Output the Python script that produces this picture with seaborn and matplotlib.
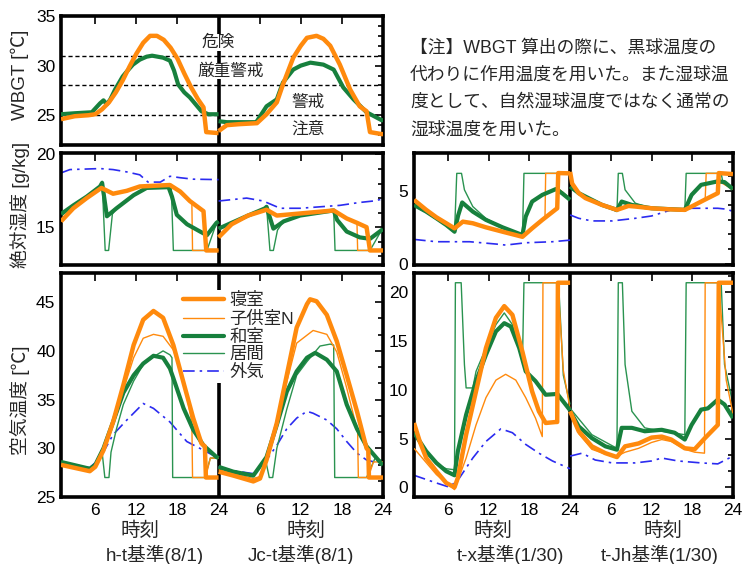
import numpy as np
import pandas as pd
import matplotlib
matplotlib.use("Agg")
import matplotlib.pyplot as plt
from matplotlib.lines import Line2D
from matplotlib.ticker import MultipleLocator, AutoMinorLocator, FixedLocator, FixedFormatter
import seaborn as sns

sns.set_style("white")
plt.rcParams['font.family'] = ['Liberation Sans', 'Noto Sans CJK JP', 'DejaVu Sans']

# ---------------- data ----------------
series_names = ['寝室', '子供室N', '和室', '居間', '外気']
xtick_pos = [6, 12, 18, 24, 30, 36, 42, 48]
xtick_lab = ['6', '12', '18', '24', '6', '12', '18', '24']

# WBGT (h-t, day1: hours 1-24; Jc-t, day2: hours 0-24)
wbgt_ht_bed_t = [1, 3, 5, 6, 7, 8, 9, 10, 11, 12, 13, 14, 15, 16, 17, 18, 19, 20, 21, 21.8, 22.2, 24]
wbgt_ht_bed = [24.6, 24.9, 25.0, 25.1, 25.6, 26.3, 27.3, 28.5, 29.9, 31.2, 32.3, 33.0, 33.0, 32.6, 31.8, 30.7, 29.2, 27.8, 26.6, 25.8, 23.3, 23.2]
wbgt_ht_wa_t = [1, 3, 5.5, 6.7, 7.2, 7.7, 8.2, 8.9, 10, 10.6, 11.5, 12.5, 13.5, 14.3, 15.9, 16.9, 17.5, 18.1, 19, 19.8, 21.5, 22.5, 23.7, 24]
wbgt_ht_wa = [25.1, 25.2, 25.3, 26.2, 26.5, 26.1, 26.6, 27.6, 28.9, 29.4, 30.1, 30.6, 30.9, 31.0, 30.8, 30.5, 29.5, 28.1, 27.3, 26.8, 25.4, 25.1, 25.1, 25.1]
wbgt_jc_bed_t = [0, 1.2, 3, 5.6, 7.0, 8.5, 9.4, 10.9, 12.0, 12.9, 14.3, 15.3, 16.3, 17.7, 19.2, 20.6, 21.6, 22.1, 23.8, 24]
wbgt_jc_bed = [23.4, 24.0, 24.1, 24.2, 25.1, 26.3, 28.1, 30.8, 32.0, 32.8, 33.0, 32.7, 32.0, 30.1, 27.6, 25.9, 25.4, 23.3, 23.1, 23.1]
wbgt_jc_wa_t = [0, 1.2, 5.5, 7.0, 8.5, 9.4, 10.9, 12.0, 13.4, 15.3, 16.8, 18.2, 19.7, 21.6, 23.8, 24]
wbgt_jc_wa = [24.4, 24.3, 24.3, 25.9, 26.6, 28.3, 29.6, 30.0, 30.3, 30.1, 29.6, 27.8, 26.6, 25.3, 24.5, 24.5]
wbgt_levels = [31, 28, 25]
wbgt_zone_labels = ['危険', '厳重警戒', '警戒', '注意']

# absolute humidity, left (h-t / Jc-t, 8/1)
hum_ht_out_t = [1, 2.3, 6.7, 8.6, 10.6, 12.5, 13.7, 15.5, 16.9, 18.4, 20.3, 24]
hum_ht_out = [18.73, 18.96, 19.03, 18.96, 18.8, 18.6, 18.1, 18.1, 18.5, 18.4, 18.3, 18.27]
hum_ht_bed_t = [1, 2.8, 4.75, 6.9, 8.6, 10.6, 12.5, 16.9, 18.4, 19.8, 21.8, 22.2, 24]
hum_ht_bed = [15.4, 16.3, 17.0, 17.7, 17.3, 17.5, 17.8, 17.9, 17.45, 16.8, 16.1, 13.4, 13.4]
hum_ht_child_t = [1, 2.8, 4.75, 6.9, 8.6, 10.6, 12.5, 16.9, 18.4, 19.8, 20.1, 20.2, 24]
hum_ht_child = [15.4, 16.3, 17.0, 17.7, 17.3, 17.5, 17.8, 17.9, 17.45, 16.8, 16.7, 13.4, 13.4]
hum_ht_wa_t = [1, 2.8, 4.75, 6.7, 7.0, 7.7, 9.1, 11.6, 13.5, 16.7, 17.2, 17.9, 19.4, 21.3, 22.3, 23.7, 24]
hum_ht_wa = [15.9, 16.5, 17.1, 17.8, 18.05, 15.75, 16.3, 17.2, 17.7, 17.75, 17.1, 15.85, 15.2, 14.7, 14.45, 15.3, 15.4]
hum_ht_liv_t = [1, 2.8, 4.75, 6.7, 7.0, 7.45, 7.95, 8.5, 9.1, 11.6, 13.5, 16.7, 17.1, 17.4, 22.3, 23.7, 24]
hum_ht_liv = [15.8, 16.4, 17.1, 17.8, 18.15, 13.4, 13.4, 15.9, 16.3, 17.2, 17.7, 17.75, 17.7, 13.4, 13.4, 15.3, 15.4]

hum_jc_out_t = [0, 4.1, 6.5, 9.0, 11.9, 14.8, 17.7, 20.6, 22.6, 23.6, 24]
hum_jc_out = [16.8, 17.0, 16.8, 16.3, 16.3, 16.4, 16.5, 16.7, 16.8, 16.9, 16.95]
hum_jc_bed_t = [0, 1.9, 4.3, 7.0, 8.5, 10.9, 16.8, 18.7, 20.2, 21.6, 22.1, 24]
hum_jc_bed = [14.3, 15.2, 15.8, 16.2, 15.8, 15.9, 16.15, 15.6, 15.3, 15.0, 13.4, 13.4]
hum_jc_child_t = [0, 1.9, 4.3, 7.0, 8.5, 10.9, 16.8, 18.7, 20.2, 20.3, 24]
hum_jc_child = [14.3, 15.2, 15.8, 16.2, 15.8, 15.9, 16.15, 15.6, 15.3, 13.4, 13.4]
hum_jc_wa_t = [0, 1.9, 4.3, 6.8, 7.0, 8.0, 9.5, 11.9, 16.8, 17.3, 18.7, 20.6, 22.1, 23.8, 24]
hum_jc_wa = [14.9, 15.3, 15.8, 16.3, 16.4, 14.9, 15.4, 15.8, 16.15, 15.5, 14.7, 14.3, 14.2, 14.8, 14.85]
hum_jc_liv_t = [0, 1.9, 4.3, 7.0, 7.5, 8.0, 8.6, 9.5, 11.9, 16.8, 17.0, 22.1, 23.8, 24]
hum_jc_liv = [14.9, 15.3, 15.8, 16.4, 13.4, 13.4, 14.8, 15.4, 15.8, 16.15, 13.4, 13.4, 14.8, 14.85]

# air temperature, left (8/1)
tmp_ht_out_t = [1, 5.2, 6.7, 8.6, 10.6, 13.0, 14.5, 16.9, 19.35, 21.8, 23.7, 24]
tmp_ht_out = [28.6, 28.0, 29.0, 31.4, 32.9, 34.6, 34.1, 32.7, 30.7, 29.8, 29.1, 29.0]
tmp_ht_bed_t = [1, 5.2, 6.0, 7.2, 8.6, 10.1, 11.6, 13.0, 14.5, 15.9, 17.4, 18.9, 20.3, 21.5, 22.0, 22.15, 24]
tmp_ht_bed = [28.3, 27.65, 28.1, 29.8, 32.7, 36.5, 40.6, 43.2, 44.1, 43.4, 40.6, 36.7, 33.1, 30.5, 30.2, 27.0, 27.0]
tmp_ht_child_t = [1, 5.2, 6.0, 7.2, 8.6, 10.1, 11.6, 13.0, 14.5, 15.9, 17.4, 18.9, 20.1, 20.2, 22.1, 22.8, 24]
tmp_ht_child = [28.4, 27.8, 28.2, 29.8, 32.5, 36.0, 39.3, 41.3, 41.7, 41.5, 40.1, 37.0, 32.7, 27.0, 27.0, 29.0, 29.0]
tmp_ht_wa_t = [1, 5.2, 6.0, 7.2, 8.6, 10.1, 11.6, 13.0, 14.5, 15.9, 16.9, 17.4, 18.9, 20.3, 21.8, 23.7, 24]
tmp_ht_wa = [28.6, 27.9, 28.3, 30.0, 32.7, 35.7, 37.5, 38.7, 39.5, 39.3, 38.2, 37.2, 34.1, 31.9, 30.3, 29.1, 29.0]
tmp_ht_liv_t = [1, 5.2, 6.0, 7.0, 7.4, 8.0, 8.3, 9.1, 10.1, 11.6, 13.0, 14.5, 15.9, 16.9, 17.2, 17.3, 22.0, 22.8, 24]
tmp_ht_liv = [28.6, 27.9, 28.3, 29.6, 27.0, 27.0, 29.6, 32.0, 34.5, 36.9, 38.6, 39.4, 40.0, 39.6, 39.3, 27.0, 27.0, 29.0, 29.0]

tmp_jc_out_t = [0, 2.15, 5.07, 7.0, 8.5, 9.95, 11.4, 12.9, 13.8, 15.8, 17.25, 18.7, 20.2, 21.6, 23.8, 24]
tmp_jc_out = [28.1, 27.7, 27.4, 28.8, 30.3, 32.0, 33.1, 33.8, 33.6, 32.9, 32.0, 30.7, 29.5, 28.8, 28.4, 28.4]
tmp_jc_bed_t = [0, 2.15, 5.07, 6.05, 7.0, 8.5, 9.95, 11.4, 12.9, 13.35, 14.3, 15.8, 17.25, 18.7, 20.2, 21.6, 21.85, 21.95, 24]
tmp_jc_bed = [27.6, 27.2, 26.6, 26.9, 28.8, 32.6, 37.5, 42.4, 44.8, 45.3, 45.1, 43.7, 41.0, 37.5, 33.8, 30.0, 29.8, 27.0, 27.0]
tmp_jc_child_t = [0, 2.15, 5.07, 6.05, 7.0, 8.5, 9.95, 11.4, 13.8, 15.8, 17.25, 18.7, 20.3, 20.4, 21.85, 22.6, 24]
tmp_jc_child = [27.8, 27.4, 26.9, 27.1, 28.9, 32.4, 36.8, 40.8, 42.1, 41.7, 39.9, 36.2, 31.7, 27.0, 27.0, 28.6, 28.6]
tmp_jc_wa_t = [0, 2.15, 5.07, 7.0, 8.5, 9.95, 11.4, 12.9, 14.1, 15.8, 17.25, 18.7, 20.2, 21.6, 23.8, 24]
tmp_jc_wa = [28.1, 27.6, 27.2, 29.1, 32.4, 35.8, 37.9, 39.3, 39.8, 39.1, 37.9, 34.5, 32.0, 30.2, 28.4, 28.3]
tmp_jc_liv_t = [0, 2.15, 5.07, 6.8, 7.4, 7.9, 8.5, 9.95, 11.4, 12.9, 14.8, 16.3, 16.8, 16.95, 21.6, 22.85, 24]
tmp_jc_liv = [28.1, 27.6, 27.3, 29.0, 27.0, 27.0, 30.0, 34.0, 37.5, 38.9, 40.5, 40.7, 40.6, 27.0, 27.0, 29.0, 28.7]

# absolute humidity, right (t-x / t-Jh, 1/30)
rhum_tx_out_t = [1, 4.3, 9.2, 13.1, 14.5, 17.5, 21.4, 24]
rhum_tx_out = [1.66, 1.5, 1.5, 1.34, 1.27, 1.43, 1.5, 1.61]
rhum_tx_bed_t = [1, 2.8, 4.3, 5.75, 6.97, 8.2, 9.66, 11.6, 14.05, 16.98, 18.4, 19.9, 21.9, 22.1, 22.25, 24]
rhum_tx_bed = [4.38, 3.69, 3.18, 2.77, 2.42, 2.88, 2.77, 2.49, 2.19, 1.84, 2.42, 3.0, 3.73, 3.8, 6.22, 6.2]
rhum_tx_child_t = [1, 2.8, 4.3, 5.75, 6.97, 8.2, 9.66, 11.6, 14.05, 16.98, 18.4, 20.3, 20.4, 22.3, 22.4, 24]
rhum_tx_child = [4.3, 3.65, 3.15, 2.75, 2.4, 2.88, 2.77, 2.49, 2.19, 1.84, 2.42, 3.15, 6.2, 6.2, 5.1, 4.45]
rhum_tx_wa_t = [1, 2.8, 4.3, 5.75, 6.97, 7.5, 8.1, 9.66, 11.6, 14.05, 16.98, 17.46, 18.4, 19.9, 21.9, 22.8, 24]
rhum_tx_wa = [4.03, 3.57, 3.11, 2.65, 2.19, 3.3, 4.2, 3.57, 3.0, 2.49, 1.96, 3.23, 4.26, 4.72, 5.12, 4.84, 4.38]
rhum_tx_liv_t = [1, 2.8, 4.3, 5.75, 6.97, 7.3, 8.0, 8.43, 9.66, 11.6, 14.05, 16.98, 17.2, 22.3, 22.4, 24]
rhum_tx_liv = [3.96, 3.5, 3.05, 2.6, 2.12, 6.2, 6.2, 5.07, 3.92, 3.1, 2.49, 1.91, 6.2, 6.2, 5.1, 4.45]

rhum_jh_out_t = [0, 1.27, 3.2, 6.2, 9.6, 12.0, 14.9, 17.9, 21.76, 23.2, 24]
rhum_jh_out = [3.34, 3.11, 2.93, 2.93, 3.11, 3.27, 3.69, 3.8, 3.8, 3.73, 3.57]
rhum_jh_bed_t = [0, 0.3, 1.27, 2.25, 4.7, 6.9, 8.6, 9.6, 12.0, 14.45, 16.9, 17.9, 19.8, 21.76, 21.9, 24]
rhum_jh_bed = [6.3, 5.5, 4.84, 4.5, 4.03, 3.69, 3.96, 3.92, 3.8, 3.73, 3.69, 3.92, 4.38, 4.84, 6.22, 6.15]
rhum_jh_child_t = [0, 0.3, 1.27, 2.25, 4.7, 6.9, 8.6, 9.6, 12.0, 14.45, 16.9, 17.9, 19.9, 20.05, 22.0, 22.1, 24]
rhum_jh_child = [6.2, 5.5, 4.84, 4.5, 4.03, 3.69, 3.96, 3.92, 3.8, 3.73, 3.69, 3.92, 4.4, 6.2, 6.2, 5.6, 5.1]
rhum_jh_wa_t = [0, 1.27, 4.7, 6.9, 7.6, 9.1, 12.0, 16.9, 17.9, 19.3, 21.76, 22.75, 24]
rhum_jh_wa = [5.3, 4.84, 4.03, 3.69, 4.26, 4.03, 3.8, 3.69, 4.72, 5.41, 5.65, 5.6, 5.12]
rhum_jh_liv_t = [0, 1.27, 4.7, 6.9, 7.1, 7.7, 8.1, 9.6, 12.0, 16.9, 17.1, 22.26, 22.5, 24]
rhum_jh_liv = [5.18, 4.8, 4.0, 3.57, 6.2, 6.2, 5.07, 4.15, 3.8, 3.69, 6.2, 6.2, 5.6, 5.07]

# air temperature, right (1/30)
rtmp_tx_out_t = [1, 4.3, 6.24, 7.7, 9.66, 11.6, 13.8, 15.5, 17.46, 19.4, 21.4, 24]
rtmp_tx_out = [1.23, 0.44, 0.0, 0.96, 3.0, 4.7, 6.0, 5.6, 4.4, 3.5, 2.7, 1.9]
rtmp_tx_bed_t = [1, 1.85, 2.8, 4.3, 5.75, 6.97, 7.46, 8.68, 10.14, 11.6, 13.07, 14.3, 15.5, 16.98, 18.4, 19.4, 20.4, 21.9, 22.1, 22.2, 24]
rtmp_tx_bed = [6.6, 4.7, 3.0, 1.64, 0.44, 0.0, 0.96, 5.4, 9.85, 14.3, 17.4, 18.6, 17.7, 13.9, 9.85, 7.8, 6.6, 6.7, 6.7, 21.0, 21.0]
rtmp_tx_child_t = [1, 4.3, 6.97, 8.68, 10.14, 11.6, 13.07, 14.5, 16.0, 17.46, 18.9, 19.9, 20.0, 22.2, 23.0, 24]
rtmp_tx_child = [4.0, 1.3, -0.24, 3.0, 6.4, 9.2, 11.0, 11.6, 11.0, 9.2, 7.1, 5.2, 21.0, 21.0, 12.0, 8.0]
rtmp_tx_wa_t = [1, 2.8, 4.3, 5.75, 6.97, 7.46, 8.68, 10.14, 11.6, 13.07, 14.3, 15.27, 16.5, 17.46, 18.9, 20.4, 21.9, 22.1, 24]
rtmp_tx_wa = [5.6, 3.7, 2.5, 1.64, 1.23, 3.7, 7.45, 10.9, 13.6, 16.0, 16.85, 16.5, 14.3, 11.9, 10.9, 9.5, 9.57, 9.6, 7.9]
rtmp_tx_liv_t = [1, 2.8, 4.3, 5.75, 6.97, 7.1, 7.95, 8.43, 8.68, 9.66, 10.14, 11.6, 13.07, 14.3, 15.5, 16.98, 17.2, 22.3, 23.0, 24]
rtmp_tx_liv = [5.4, 3.6, 2.4, 1.9, 1.8, 21.0, 21.0, 12.6, 10.2, 10.2, 11.9, 14.3, 16.7, 17.9, 16.7, 12.9, 21.0, 21.0, 11.5, 8.5]

rtmp_jh_out_t = [0, 1.77, 3.7, 6.2, 9.6, 12.0, 13.5, 15.9, 19.3, 21.76, 24]
rtmp_jh_out = [3.2, 3.5, 2.8, 2.5, 2.5, 2.7, 3.0, 2.7, 2.5, 2.4, 3.2]
rtmp_jh_bed_t = [0, 1.27, 3.2, 5.2, 6.9, 8.1, 10.1, 12.0, 13.5, 14.9, 16.9, 18.35, 19.8, 21.76, 21.9, 24]
rtmp_jh_bed = [7.8, 5.75, 4.2, 3.5, 3.1, 4.2, 4.5, 5.1, 5.2, 4.9, 4.0, 3.9, 5.0, 6.4, 21.0, 21.0]
rtmp_jh_child_t = [0, 1.27, 3.2, 5.2, 6.9, 8.1, 10.1, 12.0, 13.5, 14.9, 16.9, 18.35, 19.8, 19.9, 21.9, 23.0, 24]
rtmp_jh_child = [7.6, 5.5, 3.9, 3.4, 3.2, 3.6, 4.0, 4.6, 4.9, 4.7, 3.9, 3.6, 3.5, 21.0, 21.0, 11.0, 7.5]
rtmp_jh_wa_t = [0, 1.27, 3.2, 5.2, 6.9, 7.6, 9.1, 11.0, 13.5, 15.4, 16.9, 17.9, 19.3, 20.3, 21.76, 22.75, 24]
rtmp_jh_wa = [7.8, 6.25, 5.05, 4.2, 3.86, 6.1, 6.1, 5.75, 5.9, 5.6, 4.9, 6.4, 7.97, 8.1, 9.0, 8.5, 7.1]
rtmp_jh_liv_t = [0, 3.2, 6.9, 7.1, 7.7, 8.1, 9.1, 11.0, 13.5, 16.9, 17.1, 22.26, 22.75, 24]
rtmp_jh_liv = [8.1, 5.4, 4.0, 21.0, 21.0, 12.6, 7.8, 6.1, 5.75, 5.4, 21.0, 21.0, 12.6, 8.5]

note_lines = ['【注】WBGT 算出の際に、黒球温度の',
              '代わりに作用温度を用いた。また湿球温',
              '度として、自然湿球温度ではなく通常の',
              '湿球温度を用いた。']
subtitles = ['h-t基準(8/1)', 'Jc-t基準(8/1)', 't-x基準(1/30)', 't-Jh基準(1/30)']

# ---------------- styles ----------------
ORANGE = '#FF8A0D'
GREEN = '#17803D'
GREEN_THIN = '#2A9350'
BLUE = '#2B2BF0'
STY = {
    '寝室': dict(color=ORANGE, lw=3.2, z=4),
    '子供室N': dict(color=ORANGE, lw=1.0, z=3),
    '和室': dict(color=GREEN, lw=3.0, z=3.5),
    '居間': dict(color=GREEN_THIN, lw=1.0, z=2.5),
    '外気': dict(color=BLUE, lw=1.2, z=2),
}

fig = plt.figure(figsize=(7.44, 5.64), dpi=100)


def px_axes(x0, y0, x1, y1):
    return fig.add_axes([x0 / 744, 1 - y1 / 564, (x1 - x0) / 744, (y1 - y0) / 564])


def draw(ax, t, v, name, offset=0):
    st = STY[name]
    df = pd.DataFrame({'x': np.asarray(t, float) + offset, 'y': v})
    sns.lineplot(data=df, x='x', y='y', ax=ax, sort=False, estimator=None,
                 color=st['color'], linewidth=st['lw'], zorder=st['z'], legend=False)
    line = ax.lines[-1]
    if name == '外気':
        line.set_dashes([7, 3, 1.5, 3])
    line.set_solid_capstyle('butt')


def style_axes(ax, ylim, major, minor_n, show_x):
    ax.set_xlim(1, 48)
    ax.set_ylim(*ylim)
    ax.set_xlabel('')
    ax.set_ylabel('')
    ax.xaxis.set_major_locator(FixedLocator(xtick_pos))
    ax.xaxis.set_major_formatter(FixedFormatter(xtick_lab))
    ax.yaxis.set_major_locator(MultipleLocator(major))
    ax.yaxis.set_minor_locator(AutoMinorLocator(minor_n))
    ax.tick_params(which='both', direction='in', top=True, right=True,
                   labelsize=12.5, width=1.2, colors='black', pad=4)
    ax.tick_params(which='major', length=6)
    ax.tick_params(which='minor', length=3.5)
    ax.tick_params(axis='x', labelbottom=show_x)
    for s in ax.spines.values():
        s.set_linewidth(2.6)
        s.set_color('black')
    ax.axvline(24, color='black', lw=2.6, zorder=1.8)


ax_w = px_axes(61, 16, 383, 145)
ax_hl = px_axes(61, 153, 383, 265)
ax_tl = px_axes(61, 273, 383, 497)
ax_hr = px_axes(414, 153, 733, 265)
ax_tr = px_axes(414, 273, 733, 497)

# WBGT
for lv in wbgt_levels:
    ax_w.axhline(lv, color='black', lw=1.0, dashes=(3, 2), zorder=1)
draw(ax_w, wbgt_ht_wa_t, wbgt_ht_wa, '和室')
draw(ax_w, wbgt_ht_bed_t, wbgt_ht_bed, '寝室')
draw(ax_w, wbgt_jc_wa_t, wbgt_jc_wa, '和室', 24)
draw(ax_w, wbgt_jc_bed_t, wbgt_jc_bed, '寝室', 24)
style_axes(ax_w, (22, 35), 5, 5, False)
bb = dict(facecolor='white', edgecolor='none', pad=0.5)
ax_w.text(23.9, 32.35, wbgt_zone_labels[0], ha='center', va='center', fontsize=12, bbox=bb, zorder=6)
ax_w.text(25.7, 29.45, wbgt_zone_labels[1], ha='center', va='center', fontsize=12, bbox=bb, zorder=6)
ax_w.text(37.1, 26.3, wbgt_zone_labels[2], ha='center', va='center', fontsize=12, zorder=6)
ax_w.text(37.1, 23.6, wbgt_zone_labels[3], ha='center', va='center', fontsize=12, zorder=6)

order = ['外気', '居間', '子供室N', '和室', '寝室']


def panel(ax, d1, d2):
    for nm in order:
        t1, v1 = d1[nm]
        draw(ax, t1, v1, nm)
        t2, v2 = d2[nm]
        draw(ax, t2, v2, nm, 24)


panel(ax_hl,
      {'外気': (hum_ht_out_t, hum_ht_out), '居間': (hum_ht_liv_t, hum_ht_liv),
       '子供室N': (hum_ht_child_t, hum_ht_child), '和室': (hum_ht_wa_t, hum_ht_wa),
       '寝室': (hum_ht_bed_t, hum_ht_bed)},
      {'外気': (hum_jc_out_t, hum_jc_out), '居間': (hum_jc_liv_t, hum_jc_liv),
       '子供室N': (hum_jc_child_t, hum_jc_child), '和室': (hum_jc_wa_t, hum_jc_wa),
       '寝室': (hum_jc_bed_t, hum_jc_bed)})
style_axes(ax_hl, (12.4, 20.1), 5, 5, False)

panel(ax_tl,
      {'外気': (tmp_ht_out_t, tmp_ht_out), '居間': (tmp_ht_liv_t, tmp_ht_liv),
       '子供室N': (tmp_ht_child_t, tmp_ht_child), '和室': (tmp_ht_wa_t, tmp_ht_wa),
       '寝室': (tmp_ht_bed_t, tmp_ht_bed)},
      {'外気': (tmp_jc_out_t, tmp_jc_out), '居間': (tmp_jc_liv_t, tmp_jc_liv),
       '子供室N': (tmp_jc_child_t, tmp_jc_child), '和室': (tmp_jc_wa_t, tmp_jc_wa),
       '寝室': (tmp_jc_bed_t, tmp_jc_bed)})
style_axes(ax_tl, (25, 48), 5, 3, True)

panel(ax_hr,
      {'外気': (rhum_tx_out_t, rhum_tx_out), '居間': (rhum_tx_liv_t, rhum_tx_liv),
       '子供室N': (rhum_tx_child_t, rhum_tx_child), '和室': (rhum_tx_wa_t, rhum_tx_wa),
       '寝室': (rhum_tx_bed_t, rhum_tx_bed)},
      {'外気': (rhum_jh_out_t, rhum_jh_out), '居間': (rhum_jh_liv_t, rhum_jh_liv),
       '子供室N': (rhum_jh_child_t, rhum_jh_child), '和室': (rhum_jh_wa_t, rhum_jh_wa),
       '寝室': (rhum_jh_bed_t, rhum_jh_bed)})
style_axes(ax_hr, (-0.1, 7.6), 5, 5, False)

panel(ax_tr,
      {'外気': (rtmp_tx_out_t, rtmp_tx_out), '居間': (rtmp_tx_liv_t, rtmp_tx_liv),
       '子供室N': (rtmp_tx_child_t, rtmp_tx_child), '和室': (rtmp_tx_wa_t, rtmp_tx_wa),
       '寝室': (rtmp_tx_bed_t, rtmp_tx_bed)},
      {'外気': (rtmp_jh_out_t, rtmp_jh_out), '居間': (rtmp_jh_liv_t, rtmp_jh_liv),
       '子供室N': (rtmp_jh_child_t, rtmp_jh_child), '和室': (rtmp_jh_wa_t, rtmp_jh_wa),
       '寝室': (rtmp_jh_bed_t, rtmp_jh_bed)})
style_axes(ax_tr, (-1, 22), 5, 3, True)

# legend
handles = []
for nm in series_names:
    st = STY[nm]
    h = Line2D([], [], color=st['color'], lw=st['lw'])
    if nm == '外気':
        h.set_dashes([7, 3, 1.5, 3])
    handles.append(h)
leg = ax_tl.legend(handles, series_names, loc='upper left', bbox_to_anchor=(0.37, 0.925),
                   frameon=True, facecolor='white', edgecolor='none', framealpha=1,
                   fontsize=12.5, handlelength=2.4, labelspacing=0.12, borderpad=0.15,
                   handletextpad=0.3, borderaxespad=0)
leg.set_zorder(1.9)

# axis labels (pixel placed)
def ftext(x, y, s, **kw):
    fig.text(x / 744, 1 - y / 564, s, **kw)

ftext(20, 75, 'WBGT [℃]', rotation=90, ha='center', va='center', fontsize=13.5)
ftext(20, 205, '絶対湿度 [g/kg]', rotation=90, ha='center', va='center', fontsize=13.5)
ftext(20, 400, '空気温度 [℃]', rotation=90, ha='center', va='center', fontsize=13.5)

for xc in [139.5, 306, 493, 663]:
    ftext(xc, 531, '時刻', ha='center', va='center', fontsize=14)
for xc, s in zip([155, 301, 510, 660], subtitles):
    ftext(xc, 555, s, ha='center', va='center', fontsize=13.5)

for i, s in enumerate(note_lines):
    ftext(410, 48 + i * 27.3, s, ha='left', va='center', fontsize=12.8)

fig.savefig('out.png', dpi=100)
